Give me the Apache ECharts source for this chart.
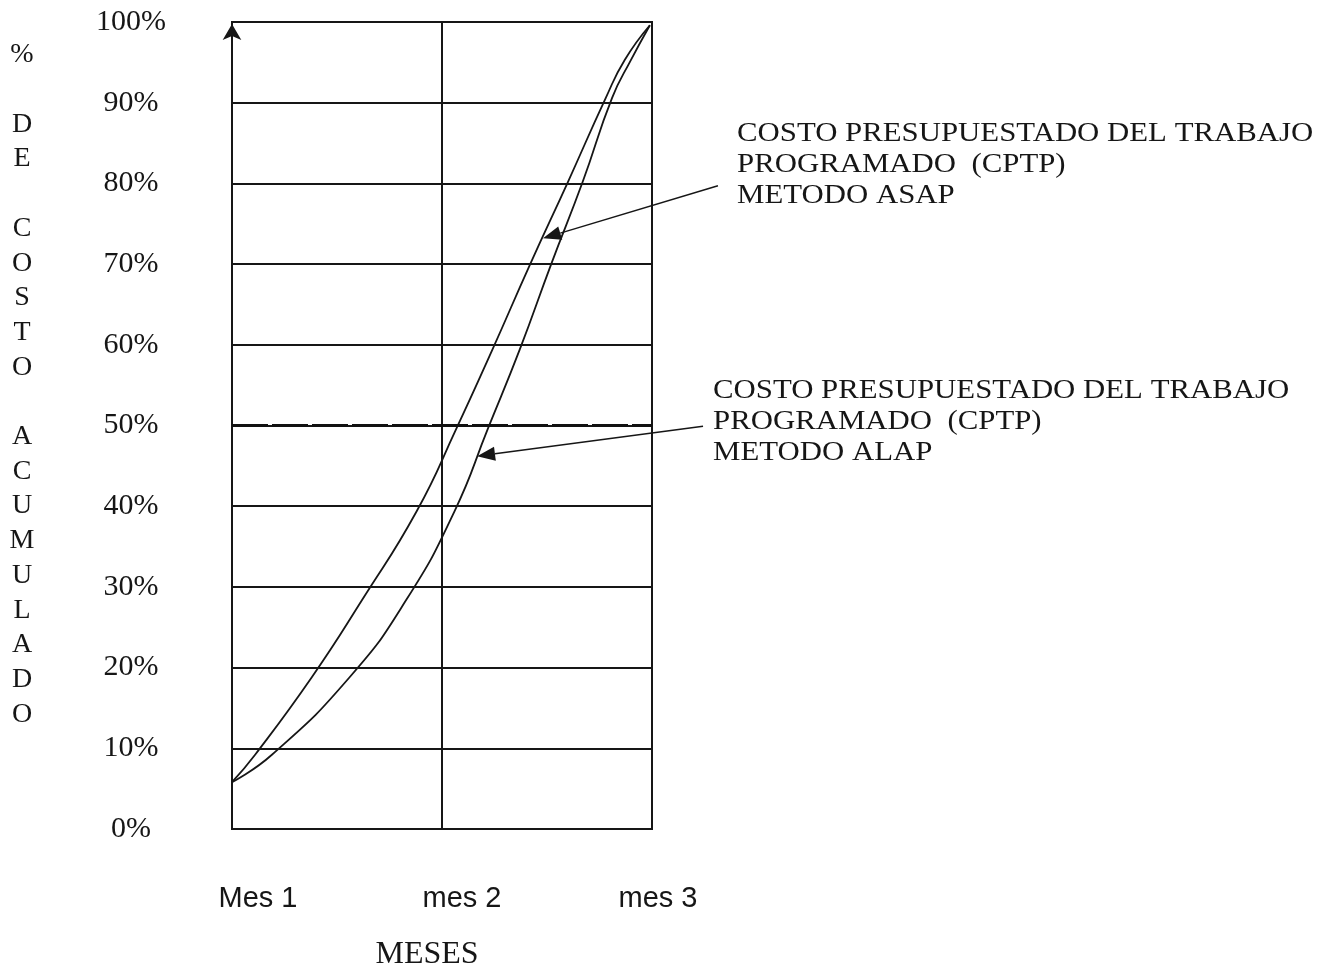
<!DOCTYPE html>
<html>
<head>
<meta charset="utf-8">
<script src="https://cdn.jsdelivr.net/npm/echarts@6/dist/echarts.min.js"></script>
<style>
html,body{margin:0;padding:0;background:#fff;}
#c{width:1337px;height:971px;}
</style>
</head>
<body>
<div id="c"></div>
<script>
// ---- data ----
const monthLabels = ['Mes 1', 'mes 2', 'mes 3'];
const yTickLabels = ['0%','10%','20%','30%','40%','50%','60%','70%','80%','90%','100%'];
const yTitleLetters = ['%','','D','E','','C','O','S','T','O','','A','C','U','M','U','L','A','D','O'];
const xTitle = 'MESES';

// ASAP curve (x in months from Mes 1, y in % accumulated cost)
const asapX = [0, 0.11, 0.38, 0.62, 0.88, 1.07, 1.24, 1.42, 1.60, 1.78, 1.87, 1.99];
const asapY = [5.8, 9.2, 18.8, 28.4, 39.4, 49.7, 59.4, 70.0, 80.2, 90.6, 95.3, 99.6];
// ALAP curve
const alapX = [0, 0.19, 0.56, 0.83, 1.06, 1.22, 1.37, 1.52, 1.67, 1.81, 1.90, 1.99];
const alapY = [5.8, 9.2, 18.8, 28.4, 39.4, 49.7, 59.4, 70.0, 80.2, 90.6, 95.3, 99.6];

const asapNote = ['COSTO PRESUPUESTADO DEL TRABAJO', 'PROGRAMADO  (CPTP)', 'METODO ASAP'];
const alapNote = ['COSTO PRESUPUESTADO DEL TRABAJO', 'PROGRAMADO  (CPTP)', 'METODO ALAP'];
// arrow tail/tip in data coordinates
const asapArrow = [[2.314, 79.7], [1.481, 73.2]];
const alapArrow = [[2.243, 49.9], [1.167, 46.2]];

// ---- chart ----
const ink = '#161616';
const serif = '"Liberation Serif", "Times New Roman", serif';
const sans = '"Liberation Sans", Arial, sans-serif';
const chart = echarts.init(document.getElementById('c'));

function zip(xs, ys){ return xs.map((x,i)=>[x, ys[i]]); }

const labelRich = {
  a: {fontFamily: sans, fontSize: 29, color: ink, padding: [0,0,0,52]},
  b: {fontFamily: sans, fontSize: 29, color: ink, padding: [0,0,0,40]},
  c: {fontFamily: sans, fontSize: 29, color: ink, padding: [0,0,0,12]}
};
const richKeys = ['a','b','c'];

chart.setOption({
  animation: false,
  backgroundColor: '#fff',
  grid: {left: 232, right: 685, top: 22, bottom: 142, outerBoundsMode: 'none', containLabel: false,
         show: true, borderColor: ink, borderWidth: 2},
  xAxis: {
    type: 'value', min: 0, max: 2, interval: 1,
    axisLine: {show: true, lineStyle: {color: ink, width: 2}},
    axisTick: {show: false},
    splitLine: {show: true, lineStyle: {color: ink, width: 2}},
    axisLabel: {
      margin: 55,
      formatter: v => '{' + richKeys[Math.round(v)] + '|' + monthLabels[Math.round(v)] + '}',
      rich: labelRich
    },
    name: xTitle, nameLocation: 'middle', nameGap: 110,
    nameTextStyle: {fontFamily: serif, fontSize: 32, color: ink, padding: [0,30,0,0]}
  },
  yAxis: {
    type: 'value', min: 0, max: 100, interval: 10,
    axisLine: {show: true, lineStyle: {color: ink, width: 2}, symbol: ['none','arrow'], symbolSize: [14, 16], symbolOffset: [0, -2]},
    axisTick: {show: false},
    splitLine: {show: true, lineStyle: {color: ink, width: 2}},
    axisLabel: {
      margin: 101, align: 'center',
      fontFamily: serif, fontSize: 30, color: ink,
      formatter: v => yTickLabels[Math.round(v/10)]
    }
  },
  series: [
    {
      name: 'ASAP', type: 'line', smooth: 0.5, symbol: 'none',
      data: zip(asapX, asapY),
      lineStyle: {color: ink, width: 1.8},
      markLine: {
        symbol: 'none', silent: true, label: {show: false},
        lineStyle: {type: [36, 4], width: 3, color: '#111'},
        data: [{yAxis: 50}]
      }
    },
    {
      name: 'ALAP', type: 'line', smooth: 0.5, symbol: 'none',
      data: zip(alapX, alapY),
      lineStyle: {color: ink, width: 1.8}
    }
  ]
});

function arrowGraphics(arrow){
  const p0 = chart.convertToPixel({gridIndex: 0}, arrow[0]);
  const p1 = chart.convertToPixel({gridIndex: 0}, arrow[1]);
  const dx = p1[0]-p0[0], dy = p1[1]-p0[1];
  const L = Math.sqrt(dx*dx+dy*dy);
  const ux = dx/L, uy = dy/L;
  const hl = 18, hw = 7;
  const bx = p1[0]-ux*hl, by = p1[1]-uy*hl;
  return [
    {type: 'line', shape: {x1: p0[0], y1: p0[1], x2: bx, y2: by}, style: {stroke: ink, lineWidth: 1.5}, z: 10},
    {type: 'polygon', shape: {points: [[p1[0],p1[1]], [bx - uy*hw, by + ux*hw], [bx + uy*hw, by - ux*hw]]}, style: {fill: ink}, z: 10}
  ];
}

chart.setOption({
  graphic: [
    {
      type: 'text', x: 22, y: 37.6, z: 10,
      style: {text: yTitleLetters.join('\n'), font: '28px ' + serif, fill: ink, align: 'center', verticalAlign: 'top', lineHeight: 34.7}
    },
    {
      type: 'text', x: 737, y: 118.5, scaleX: 1.1, z: 10,
      style: {text: asapNote.join('\n'), font: '28px ' + serif, fill: ink, align: 'left', verticalAlign: 'top', lineHeight: 31}
    },
    {
      type: 'text', x: 713, y: 375, scaleX: 1.1, z: 10,
      style: {text: alapNote.join('\n'), font: '28px ' + serif, fill: ink, align: 'left', verticalAlign: 'top', lineHeight: 31}
    }
  ].concat(arrowGraphics(asapArrow), arrowGraphics(alapArrow))
});
</script>
</body>
</html>
